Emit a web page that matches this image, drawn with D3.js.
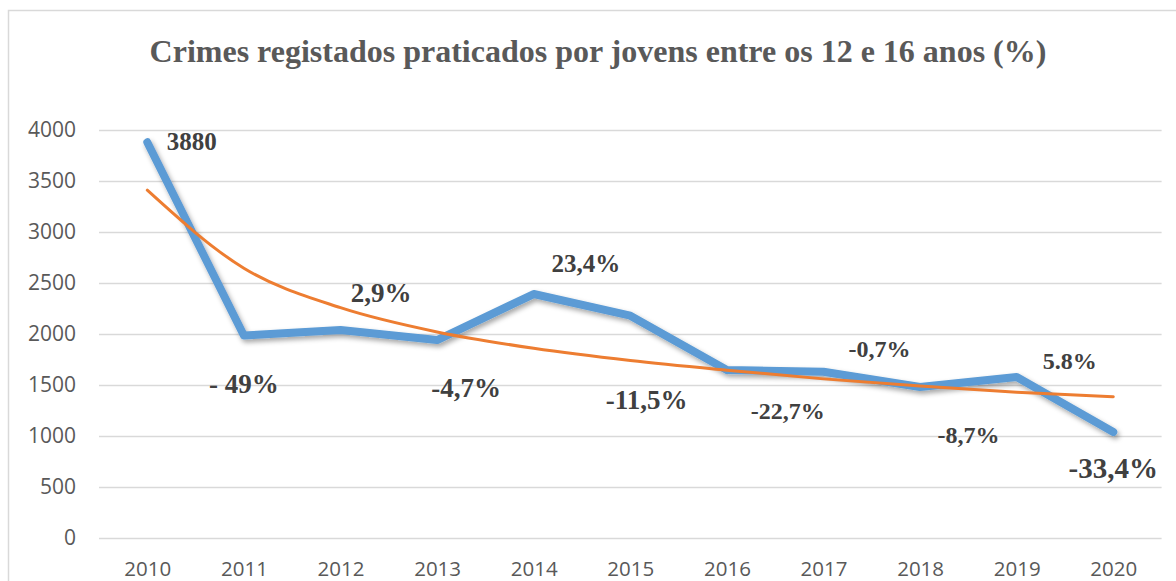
<!DOCTYPE html>
<html>
<head>
<meta charset="utf-8">
<script src="https://cdn.jsdelivr.net/npm/d3@7"></script>
<style>
  body { margin: 0; background: #fff; }
  svg { display: block; }
</style>
</head>
<body>
<div class="chart-container"></div>
<script>
// data
const years = [2010, 2011, 2012, 2013, 2014, 2015, 2016, 2017, 2018, 2019, 2020];
const crimes = [3880, 1985, 2039, 1941, 2392, 2180, 1647, 1630, 1480, 1578, 1039];
const trend = [3410, 2645, 2258, 2020, 1860, 1740, 1645, 1560, 1490, 1430, 1385];
const yTicks = [0, 500, 1000, 1500, 2000, 2500, 3000, 3500, 4000];
const labelTexts = ["3880", "- 49%", "2,9%", "-4,7%", "23,4%", "-11,5%", "-22,7%", "-0,7%", "5.8%", "-8,7%", "-33,4%"];
const labelYears = [2010.46, 2011.0, 2012.42, 2013.3, 2014.54, 2015.17, 2016.63, 2017.58, 2019.55, 2018.5, 2020.0];
const labelValues = [3804, 1422, 2314, 1382, 2608, 1265, 1167, 1775, 1657, 931, 588];
const labelSizes = [25, 27, 27, 27, 25, 27, 24, 24, 24, 24, 29];

const title = "Crimes registados praticados por jovens entre os 12 e 16 anos (%)";

function draw() {
    const width = 1176;
    const height = 581;

    const svg = d3.select('.chart-container').append("svg")
        .attr("width", width)
        .attr("height", height);

    const defs = svg.append("defs");
    const f = defs.append("filter").attr("id", "shadow")
        .attr("x", "-10%").attr("y", "-10%").attr("width", "120%").attr("height", "130%");
    f.append("feDropShadow")
        .attr("dx", 2).attr("dy", 3).attr("stdDeviation", 2.5)
        .attr("flood-color", "#000").attr("flood-opacity", 0.35);

    // chart frame
    svg.append("rect")
        .attr("x", 8.5).attr("y", 10.5)
        .attr("width", 1200).attr("height", 700)
        .attr("fill", "#fff")
        .attr("stroke", "#d9d9d9")
        .attr("stroke-width", 1.5);

    svg.append("text")
        .attr("x", 598)
        .attr("y", 62)
        .attr("text-anchor", "middle")
        .attr("font-family", "'Liberation Serif', 'Times New Roman', serif")
        .attr("font-weight", "bold")
        .attr("font-size", 32)
        .attr("fill", "#595959")
        .text(title);

    const x = d3.scaleLinear().domain([2010, 2020]).range([147.3, 1113.3]);
    const y = d3.scaleLinear().domain([0, 4000]).range([538, 130]);

    const plotLeft = x(2009.5), plotRight = x(2020.5);

    // grid lines
    svg.append("g")
        .selectAll("line")
        .data(yTicks)
        .join("line")
        .attr("x1", plotLeft)
        .attr("x2", plotRight)
        .attr("y1", d => Math.round(y(d)) + 0.5)
        .attr("y2", d => Math.round(y(d)) + 0.5)
        .attr("stroke", "#d9d9d9")
        .attr("stroke-width", 1.5);

    // y axis labels
    const yAxis = svg.append("g")
        .attr("transform", `translate(${plotLeft - 23},0)`)
        .call(d3.axisLeft(y).tickValues(yTicks).tickFormat(d3.format("d")).tickSize(0).tickPadding(0));
    yAxis.select(".domain").remove();
    yAxis.selectAll("text")
        .attr("font-family", "'Open Sans', 'Liberation Sans', sans-serif")
        .attr("font-size", 21)
        .attr("fill", "#595959");

    // x axis labels
    const xAxis = svg.append("g")
        .attr("transform", `translate(0,${y(0) + 23})`)
        .call(d3.axisBottom(x).tickValues(years).tickFormat(d3.format("d")).tickSize(0).tickPadding(0));
    xAxis.select(".domain").remove();
    xAxis.selectAll("text")
        .attr("font-family", "'Open Sans', 'Liberation Sans', sans-serif")
        .attr("font-size", 20.5)
        .attr("fill", "#595959");

    const line = d3.line()
        .x((d, i) => x(years[i]))
        .y(d => y(d));

    svg.append("path")
        .datum(crimes)
        .attr("d", line)
        .attr("fill", "none")
        .attr("stroke", "#5b9bd5")
        .attr("stroke-width", 8)
        .attr("stroke-linejoin", "round")
        .attr("stroke-linecap", "round")
        .attr("filter", "url(#shadow)");

    svg.append("path")
        .datum(trend)
        .attr("d", line.curve(d3.curveMonotoneX))
        .attr("fill", "none")
        .attr("stroke", "#ed7d31")
        .attr("stroke-width", 3)
        .attr("stroke-linecap", "round");

    // data labels
    svg.append("g")
        .selectAll("text")
        .data(labelTexts)
        .join("text")
        .attr("x", (d, i) => x(labelYears[i]))
        .attr("y", (d, i) => y(labelValues[i]))
        .attr("text-anchor", "middle")
        .attr("font-family", "'Liberation Serif', 'Times New Roman', serif")
        .attr("font-weight", "bold")
        .attr("font-size", (d, i) => labelSizes[i])
        .attr("fill", "#404040")
        .text(d => d);
}

draw();
</script>
</body>
</html>
